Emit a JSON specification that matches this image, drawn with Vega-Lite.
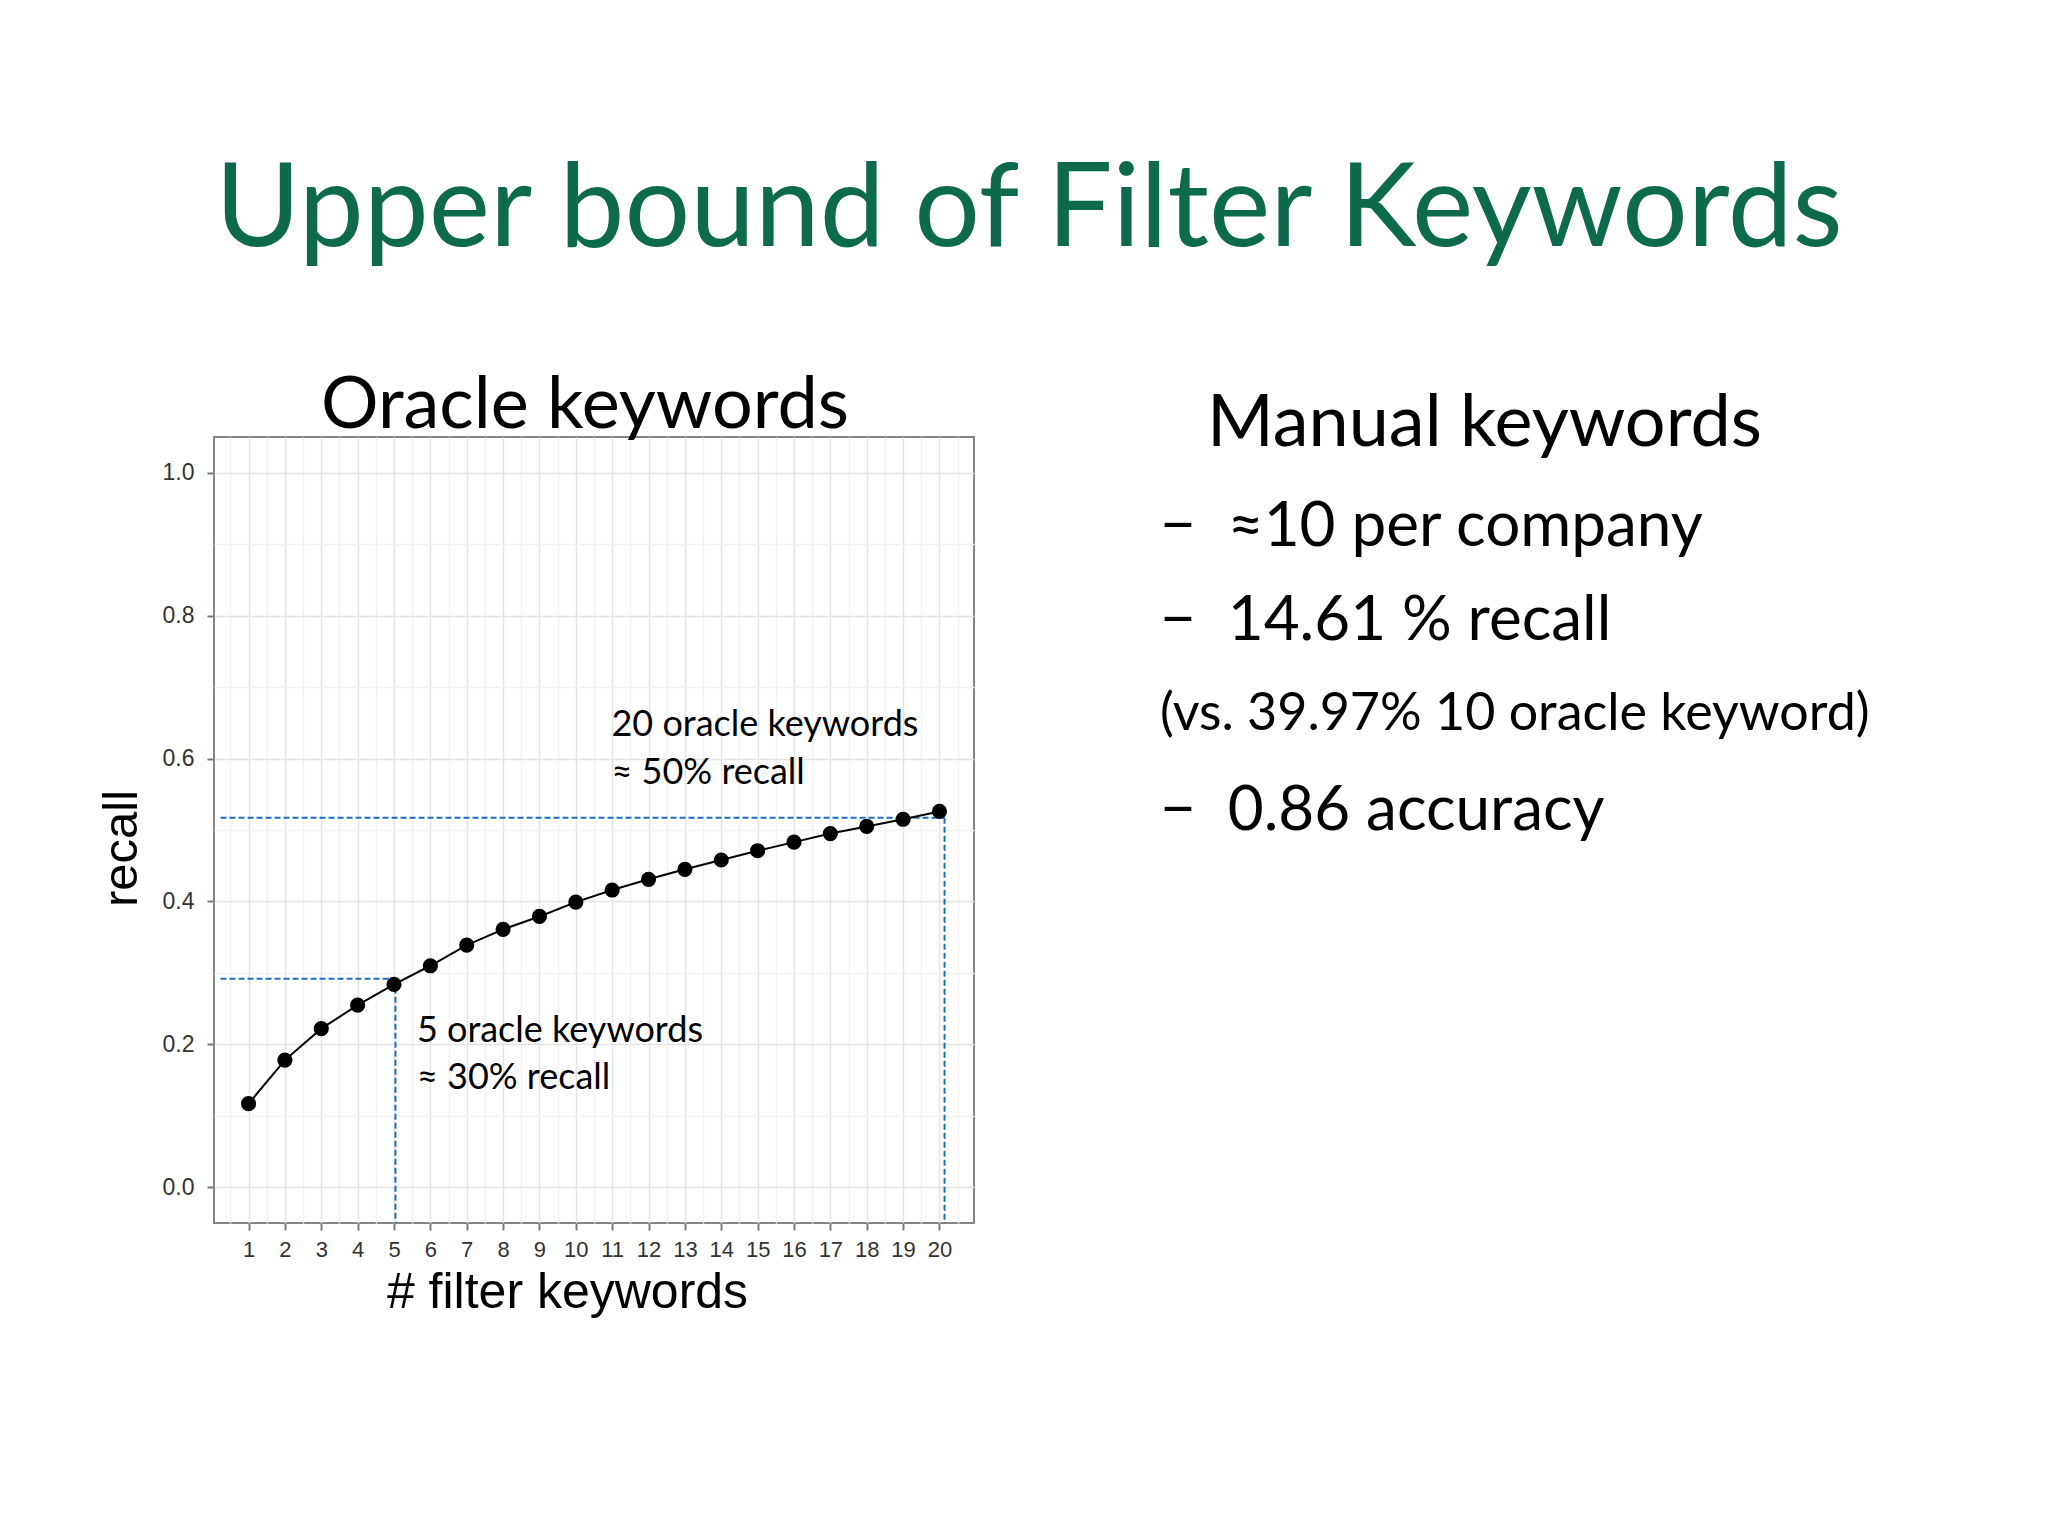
{
  "$schema": "https://vega.github.io/schema/vega-lite/v6.json",
  "background": "white",
  "padding": {"left": 96, "top": 153, "right": 0, "bottom": 0},
  "title": {
    "text": "Upper bound of Filter Keywords",
    "font": "Lato",
    "fontSize": 116,
    "fontWeight": "normal",
    "color": "#0d6a4b",
    "anchor": "middle",
    "baseline": "alphabetic",
    "offset": 7,
    "dx": 6
  },
  "config": {"view": {"stroke": null}, "font": "Lato"},
  "spacing": 185,
  "hconcat": [
    {
      "width": 760,
      "height": 786,
      "view": {"stroke": "#858585", "strokeWidth": 2},
      "title": {
        "text": "Oracle keywords",
        "font": "Lato",
        "fontSize": 72,
        "fontWeight": "normal",
        "color": "black",
        "baseline": "alphabetic",
        "offset": -63,
        "dx": -9
      },
      "encoding": {
        "x": {
          "field": "keywords",
          "type": "quantitative",
          "scale": {"domain": [0.05, 20.95], "nice": false, "zero": false},
          "axis": {
            "title": "# filter keywords",
            "values": [0.5, 1, 1.5, 2, 2.5, 3, 3.5, 4, 4.5, 5, 5.5, 6, 6.5, 7, 7.5, 8, 8.5, 9, 9.5, 10, 10.5, 11, 11.5, 12, 12.5, 13, 13.5, 14, 14.5, 15, 15.5, 16, 16.5, 17, 17.5, 18, 18.5, 19, 19.5, 20, 20.5],
            "labelExpr": "datum.value % 1 === 0 ? format(datum.value, 'd') : ''",
            "labelFont": "Liberation Sans",
            "labelFontSize": 22,
            "labelColor": "#333333",
            "labelPadding": 9,
            "labelFlush": false,
            "labelOverlap": false,
            "domain": false,
            "tickSize": 7,
            "tickWidth": 2,
            "tickColor": "#7a7a7a",
            "tickOpacity": {"condition": {"test": "datum.value % 1 !== 0", "value": 0}, "value": 1},
            "gridColor": {"condition": {"test": "datum.value % 1 !== 0", "value": "#f2f2f2"}, "value": "#e4e4e4"},
            "gridWidth": 1.5,
            "titleFont": "Liberation Sans",
            "titleFontSize": 50,
            "titleFontWeight": "normal",
            "titleColor": "black",
            "titleX": 353,
            "titleY": 84,
            "titleBaseline": "alphabetic"
          }
        },
        "y": {
          "field": "recall",
          "type": "quantitative",
          "scale": {"domain": [-0.05, 1.05], "nice": false, "zero": false},
          "axis": {
            "title": "recall",
            "values": [0, 0.1, 0.2, 0.3, 0.4, 0.5, 0.6, 0.7, 0.8, 0.9, 1],
            "labelExpr": "round(datum.value * 10) % 2 === 1 ? '' : format(datum.value, '.1f')",
            "labelFont": "Liberation Sans",
            "labelFontSize": 23,
            "labelColor": "#333333",
            "labelPadding": 13,
            "labelFlush": false,
            "labelOverlap": false,
            "domain": false,
            "tickSize": 7,
            "tickWidth": 2,
            "tickColor": "#7a7a7a",
            "tickOpacity": {"condition": {"test": "round(datum.value * 10) % 2 === 1", "value": 0}, "value": 1},
            "gridColor": {"condition": {"test": "round(datum.value * 10) % 2 === 1", "value": "#f2f2f2"}, "value": "#e4e4e4"},
            "gridWidth": 1.5,
            "titleFont": "Liberation Sans",
            "titleFontSize": 49,
            "titleFontWeight": "normal",
            "titleColor": "black",
            "titleAngle": -90,
            "titleX": -78,
            "titleY": 411,
            "titleAlign": "center",
            "titleBaseline": "alphabetic"
          }
        }
      },
      "layer": [
        {
          "data": {
            "values": [
              {"keywords": 0.23, "keywords2": 20.14, "recall": 0.517, "recall2": 0.517},
              {"keywords": 20.14, "keywords2": 20.14, "recall": 0.517, "recall2": -0.05},
              {"keywords": 0.23, "keywords2": 5.04, "recall": 0.292, "recall2": 0.292},
              {"keywords": 5.04, "keywords2": 5.04, "recall": 0.292, "recall2": -0.05}
            ]
          },
          "mark": {"type": "rule", "color": "#1f6dc2", "strokeWidth": 2, "strokeDash": [6, 3]},
          "encoding": {
            "x2": {"field": "keywords2"},
            "y2": {"field": "recall2"}
          }
        },
        {
          "data": {"name": "curve"},
          "mark": {"type": "line", "color": "black", "strokeWidth": 2}
        },
        {
          "data": {"name": "curve"},
          "mark": {"type": "point", "filled": true, "color": "black", "size": 230, "opacity": 1}
        },
        {
          "data": {
            "values": [
              {"keywords": 10.98, "recall": 0.631, "label": "20 oracle keywords"},
              {"keywords": 10.98, "recall": 0.565, "label": "≈ 50% recall"},
              {"keywords": 5.63, "recall": 0.203, "label": "5 oracle keywords"},
              {"keywords": 5.63, "recall": 0.137, "label": "≈ 30% recall"}
            ]
          },
          "mark": {"type": "text", "font": "Lato", "fontSize": 36, "align": "left", "baseline": "alphabetic", "color": "black"},
          "encoding": {"text": {"field": "label"}}
        }
      ]
    },
    {
      "width": 790,
      "height": 786,
      "data": {
        "values": [
          {"line": 0, "kind": "heading", "text": "Manual keywords"},
          {"line": 1, "kind": "bullet", "text": "−\u00a0 ≈10 per company"},
          {"line": 2, "kind": "bullet", "text": "−\u00a0 14.61 % recall"},
          {"line": 3, "kind": "note", "text": "(vs. 39.97% 10 oracle keyword)"},
          {"line": 4, "kind": "bullet", "text": "−\u00a0 0.86 accuracy"}
        ]
      },
      "encoding": {
        "x": {"datum": 0, "type": "quantitative", "scale": {"domain": [0, 1]}, "axis": null},
        "y": {
          "field": "line",
          "type": "quantitative",
          "scale": {"domain": [-0.095, 8.201], "reverse": true, "nice": false, "zero": false},
          "axis": null
        },
        "text": {"field": "text"}
      },
      "layer": [
        {
          "transform": [{"filter": "datum.kind === 'heading'"}],
          "mark": {"type": "text", "font": "Lato", "fontSize": 72, "align": "left", "baseline": "alphabetic", "color": "black", "dx": 47}
        },
        {
          "transform": [{"filter": "datum.kind === 'bullet'"}],
          "mark": {"type": "text", "font": "Lato", "fontSize": 62, "align": "left", "baseline": "alphabetic", "color": "black", "dy": 5}
        },
        {
          "transform": [{"filter": "datum.kind === 'note'"}],
          "mark": {"type": "text", "font": "Lato", "fontSize": 52, "align": "left", "baseline": "alphabetic", "color": "black"}
        }
      ]
    }
  ],
  "datasets": {
    "curve": [
      {"keywords": 1, "recall": 0.117},
      {"keywords": 2, "recall": 0.178},
      {"keywords": 3, "recall": 0.222},
      {"keywords": 4, "recall": 0.255},
      {"keywords": 5, "recall": 0.284},
      {"keywords": 6, "recall": 0.310},
      {"keywords": 7, "recall": 0.339},
      {"keywords": 8, "recall": 0.361},
      {"keywords": 9, "recall": 0.379},
      {"keywords": 10, "recall": 0.399},
      {"keywords": 11, "recall": 0.416},
      {"keywords": 12, "recall": 0.431},
      {"keywords": 13, "recall": 0.445},
      {"keywords": 14, "recall": 0.458},
      {"keywords": 15, "recall": 0.471},
      {"keywords": 16, "recall": 0.483},
      {"keywords": 17, "recall": 0.495},
      {"keywords": 18, "recall": 0.505},
      {"keywords": 19, "recall": 0.515},
      {"keywords": 20, "recall": 0.526}
    ]
  }
}
